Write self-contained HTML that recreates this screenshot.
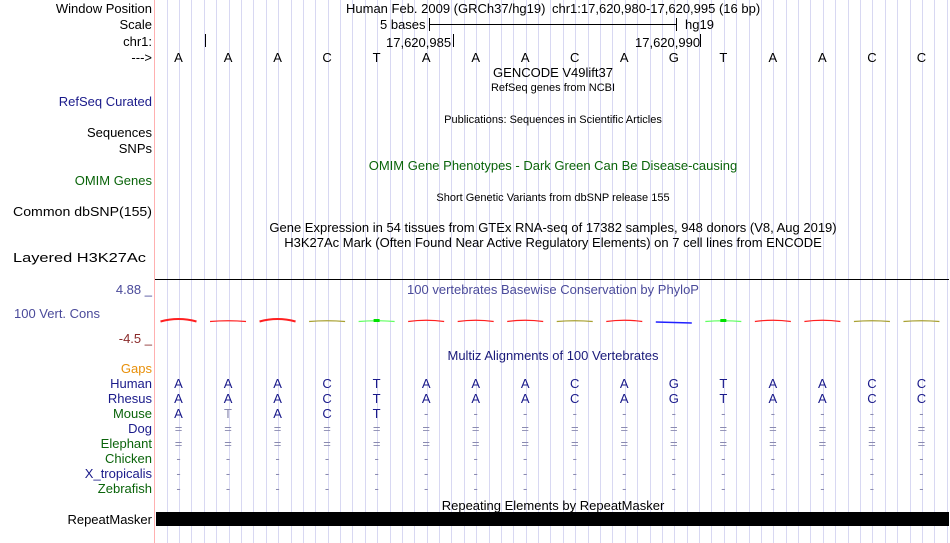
<!DOCTYPE html>
<html><head><meta charset="utf-8"><style>
html,body{margin:0;padding:0;background:#fff;}
svg{display:block;font-family:"Liberation Sans",sans-serif;}
</style></head><body>
<svg width="950" height="543" viewBox="0 0 950 543" xmlns="http://www.w3.org/2000/svg">
<rect width="950" height="543" fill="#fff"/>
<g id="grid" stroke="#d8d8f2" stroke-width="1"></g>
<line x1="154.5" y1="0" x2="154.5" y2="543" stroke="#ffb0b0"/>
<g font-size="13" fill="#000" text-anchor="end">
<text x="152" y="13">Window Position</text>
<text x="152" y="29">Scale</text>
<text x="152" y="46">chr1:</text>
<text x="152" y="62">---&gt;</text>
<text x="152" y="106" fill="#1a1a8a">RefSeq Curated</text>
<text x="152" y="137">Sequences</text>
<text x="152" y="153">SNPs</text>
<text x="152" y="185" fill="#0a640a">OMIM Genes</text>
<text x="152" y="216" textLength="139" lengthAdjust="spacingAndGlyphs">Common dbSNP(155)</text>
<text x="146" y="262" textLength="133" lengthAdjust="spacingAndGlyphs">Layered H3K27Ac</text>
<text x="152" y="294" fill="#4a4a9a">4.88 _</text>
<text x="100" y="318" fill="#4a4a9a">100 Vert. Cons</text>
<text x="152" y="343" fill="#8a2a2a">-4.5 _</text>
<text x="152" y="373" fill="#e8900a">Gaps</text>
<text x="152" y="388" fill="#1a1a8a">Human</text>
<text x="152" y="403" fill="#1a1a8a">Rhesus</text>
<text x="152" y="418" fill="#0a640a">Mouse</text>
<text x="152" y="433" fill="#1a1a8a">Dog</text>
<text x="152" y="448" fill="#0a640a">Elephant</text>
<text x="152" y="463" fill="#0a640a">Chicken</text>
<text x="152" y="478" fill="#1a1a8a">X_tropicalis</text>
<text x="152" y="493" fill="#0a640a">Zebrafish</text>
<text x="152" y="524">RepeatMasker</text>
</g>
<g font-size="13" fill="#000">
<text x="346" y="13">Human Feb. 2009 (GRCh37/hg19)</text>
<text x="552" y="13">chr1:17,620,980-17,620,995 (16 bp)</text>
<text x="380" y="29">5 bases</text>
<text x="685" y="29">hg19</text>
<text x="386" y="47">17,620,985</text>
<text x="635" y="47">17,620,990</text>
<text x="553" y="77" text-anchor="middle">GENCODE V49lift37</text>
<text x="553" y="170" text-anchor="middle" fill="#0a640a">OMIM Gene Phenotypes - Dark Green Can Be Disease-causing</text>
<text x="553" y="232" text-anchor="middle">Gene Expression in 54 tissues from GTEx RNA-seq of 17382 samples, 948 donors (V8, Aug 2019)</text>
<text x="553" y="247" text-anchor="middle">H3K27Ac Mark (Often Found Near Active Regulatory Elements) on 7 cell lines from ENCODE</text>
<text x="553" y="294" text-anchor="middle" fill="#4a4a9a">100 vertebrates Basewise Conservation by PhyloP</text>
<text x="553" y="360" text-anchor="middle" fill="#1a1a7a">Multiz Alignments of 100 Vertebrates</text>
<text x="553" y="510" text-anchor="middle">Repeating Elements by RepeatMasker</text>
</g>
<g font-size="11" fill="#000" text-anchor="middle">
<text x="553" y="91">RefSeq genes from NCBI</text>
<text x="553" y="123">Publications: Sequences in Scientific Articles</text>
<text x="553" y="201">Short Genetic Variants from dbSNP release 155</text>
</g>
<g stroke="#000" stroke-width="1">
<line x1="429" y1="24.5" x2="676" y2="24.5"/>
<line x1="429.5" y1="18" x2="429.5" y2="31"/>
<line x1="676.5" y1="18" x2="676.5" y2="31"/>
<line x1="205.5" y1="34" x2="205.5" y2="47"/>
<line x1="453.5" y1="34" x2="453.5" y2="47"/>
<line x1="700.5" y1="34" x2="700.5" y2="47"/>
<line x1="155" y1="279.5" x2="949" y2="279.5"/>
</g>
<rect x="156" y="512" width="793" height="14" fill="#000"/>
<g id="seq" font-size="13" text-anchor="middle"></g>
<g id="cons"></g>
<script>
var g=document.getElementById('grid'),ns='http://www.w3.org/2000/svg';
for(var k=0;k<64;k++){var x=Math.round(166.7+12.38*k)+0.5;if(x>949)break;var l=document.createElementNS(ns,'line');l.setAttribute('x1',x);l.setAttribute('x2',x);l.setAttribute('y1',0);l.setAttribute('y2',543);g.appendChild(l);}
var seq="AAACTAAACAGTAACC";
var s=document.getElementById('seq');
function t(x,y,c,col){var e=document.createElementNS(ns,'text');e.setAttribute('x',x);e.setAttribute('y',y);e.setAttribute('fill',col);e.textContent=c;s.appendChild(e);}
var mouse="ATACT";
for(var i=0;i<16;i++){var x=178.5+49.53*i;
t(x,62,seq[i],'#000');t(x,388,seq[i],'#1a1a8a');t(x,403,seq[i],'#1a1a8a');
if(i<5)t(x,418,mouse[i],i==1?'#8a8ab0':'#1a1a8a');else t(x,418,'-','#8a8ab0');
t(x,433,'=','#8a8ab0');t(x,448,'=','#8a8ab0');
t(x,463,'-','#8a8ab0');t(x,478,'-','#8a8ab0');t(x,493,'-','#8a8ab0');}
var cols=['r','r','r','o','g','r','r','r','o','r','b','g','r','r','o','o'];
var cc={r:'#ff2020',o:'#a8a030',g:'#60ff60',b:'#2020ff'};
var cg=document.getElementById('cons');
for(var i=0;i<16;i++){var x=178.5+49.53*i,c=cc[cols[i]];var p=document.createElementNS(ns,'path');
var peak=(i==0||i==2)?317.5:(cols[i]=='r'&&i!=1?320:321);
p.setAttribute('d','M'+(x-18)+' 321.5 Q'+x+' '+(peak-1)+' '+(x+18)+' 321.5');p.setAttribute('stroke',c);p.setAttribute('fill','none');p.setAttribute('stroke-width',(i==0||i==2)?2:1.2);cg.appendChild(p);
if(cols[i]=='g'){var r=document.createElementNS(ns,'rect');r.setAttribute('x',x-3);r.setAttribute('y',319);r.setAttribute('width',6);r.setAttribute('height',3);r.setAttribute('fill','#00e000');cg.appendChild(r);}
if(cols[i]=='b'){p.setAttribute('d','M'+(x-18)+' 322 L'+(x+18)+' 323');p.setAttribute('stroke-width',1.5);}}
</script>
</svg>
</body></html>
